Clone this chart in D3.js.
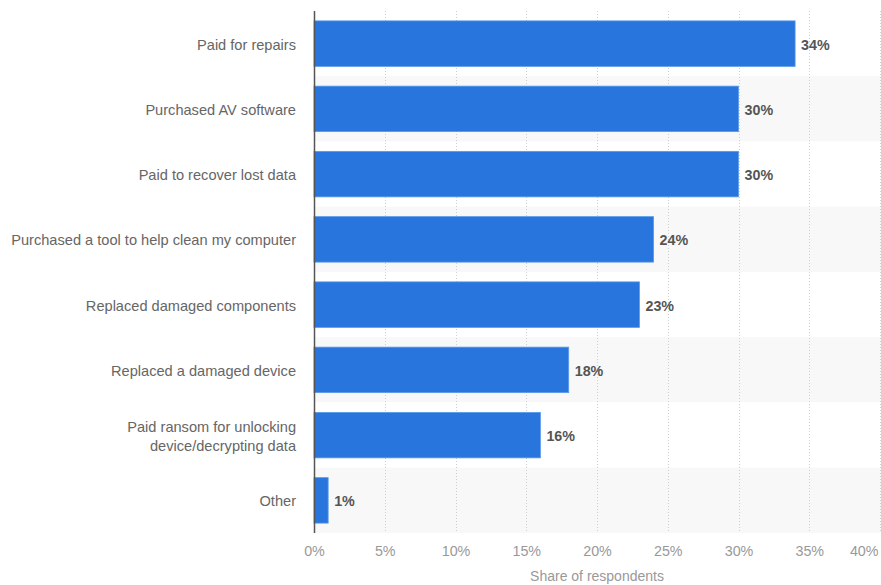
<!DOCTYPE html>
<html>
<head>
<meta charset="utf-8">
<script src="https://cdn.jsdelivr.net/npm/d3@7"></script>
<style>
  html, body { margin: 0; padding: 0; background: #fff; }
  svg { display: block; font-family: "Liberation Sans", Arial, sans-serif; }
</style>
</head>
<body>
<svg id="chart" width="881" height="585"></svg>
<script>
// Ways respondents spent money after a malware incident
const categories = [
  "Paid for repairs",
  "Purchased AV software",
  "Paid to recover lost data",
  "Purchased a tool to help clean my computer",
  "Replaced damaged components",
  "Replaced a damaged device",
  "Paid ransom for unlocking\ndevice/decrypting data",
  "Other"
];
const values = [34, 30, 30, 24, 23, 18, 16, 1];
const tickValues = [0, 5, 10, 15, 20, 25, 30, 35, 40];
const axisTitle = "Share of respondents";

const svg = d3.select("#chart");
const W = 881, H = 585;
const plotTop = 11, plotBottom = 533, plotLeft = 314;

const x = d3.scaleLinear().domain([0, 40]).range([plotLeft, 880]);
const y = d3.scaleBand()
  .domain(categories)
  .range([plotTop, plotBottom])
  .paddingInner(0)
  .paddingOuter(0);

const rowH = y.bandwidth();
const barH = 45.5;

// alternating row bands
svg.append("g").selectAll("rect")
  .data(categories)
  .join("rect")
  .attr("x", plotLeft)
  .attr("y", d => y(d))
  .attr("width", W - plotLeft)
  .attr("height", rowH)
  .attr("fill", (d, i) => i % 2 === 1 ? "#f8f8f8" : "#ffffff");

// vertical grid lines
svg.append("g").selectAll("line")
  .data(tickValues.slice(1))
  .join("line")
  .attr("x1", d => Math.round(x(d)) + 0.5)
  .attr("x2", d => Math.round(x(d)) + 0.5)
  .attr("y1", plotTop)
  .attr("y2", plotBottom)
  .attr("stroke", "#cfcfcf")
  .attr("stroke-width", 1)
  .attr("stroke-dasharray", "1,2");

// bars
svg.append("g").selectAll("rect")
  .data(values)
  .join("rect")
  .attr("x", x(0))
  .attr("y", (d, i) => y(categories[i]) + (rowH - barH) / 2)
  .attr("width", d => x(d) - x(0))
  .attr("height", barH)
  .attr("fill", "#2876dd")
  .attr("stroke", "#5a9ae8")
  .attr("stroke-width", 0.8);

// value labels
svg.append("g").selectAll("text")
  .data(values)
  .join("text")
  .attr("x", d => x(d) + 6)
  .attr("y", (d, i) => y(categories[i]) + rowH / 2 + 1)
  .attr("dy", "0.35em")
  .attr("font-size", 14.3)
  .attr("font-weight", "bold")
  .attr("fill", "#555555")
  .text(d => d + "%");

// y axis line
svg.append("line")
  .attr("x1", plotLeft + 0.5)
  .attr("x2", plotLeft + 0.5)
  .attr("y1", plotTop)
  .attr("y2", plotBottom)
  .attr("stroke", "#555555")
  .attr("stroke-width", 1.5);

// category labels
const catG = svg.append("g");
categories.forEach(c => {
  const lines = c.split("\n");
  const cy = y(c) + rowH / 2 + 1;
  const t = catG.append("text")
    .attr("x", 296)
    .attr("text-anchor", "end")
    .attr("font-size", 14.6)
    .attr("fill", "#666666");
  lines.forEach((ln, j) => {
    t.append("tspan")
      .attr("x", 296)
      .attr("y", cy + (j - (lines.length - 1) / 2) * 19)
      .attr("dy", "0.35em")
      .text(ln);
  });
});

// x axis tick labels
const xAxis = d3.axisBottom(x)
  .tickValues(tickValues)
  .tickSize(0)
  .tickPadding(0)
  .tickFormat(d => d + "%");
const gx = svg.append("g")
  .attr("transform", "translate(0, 551)")
  .call(xAxis);
gx.select(".domain").remove();
gx.selectAll("text")
  .attr("font-family", "Liberation Sans, Arial, sans-serif")
  .attr("font-size", 14.3)
  .attr("fill", "#999999")
  .attr("dy", "0.35em")
  .attr("y", 0);
// keep the last tick label inside the frame
gx.selectAll(".tick").filter(d => d === 40).select("text")
  .attr("text-anchor", "end")
  .attr("x", W - 3 - x(40));

// axis title
svg.append("text")
  .attr("x", (x(0) + x(40)) / 2)
  .attr("y", 576)
  .attr("dy", "0.35em")
  .attr("text-anchor", "middle")
  .attr("font-size", 14)
  .attr("fill", "#999999")
  .text(axisTitle);
</script>
</body>
</html>
